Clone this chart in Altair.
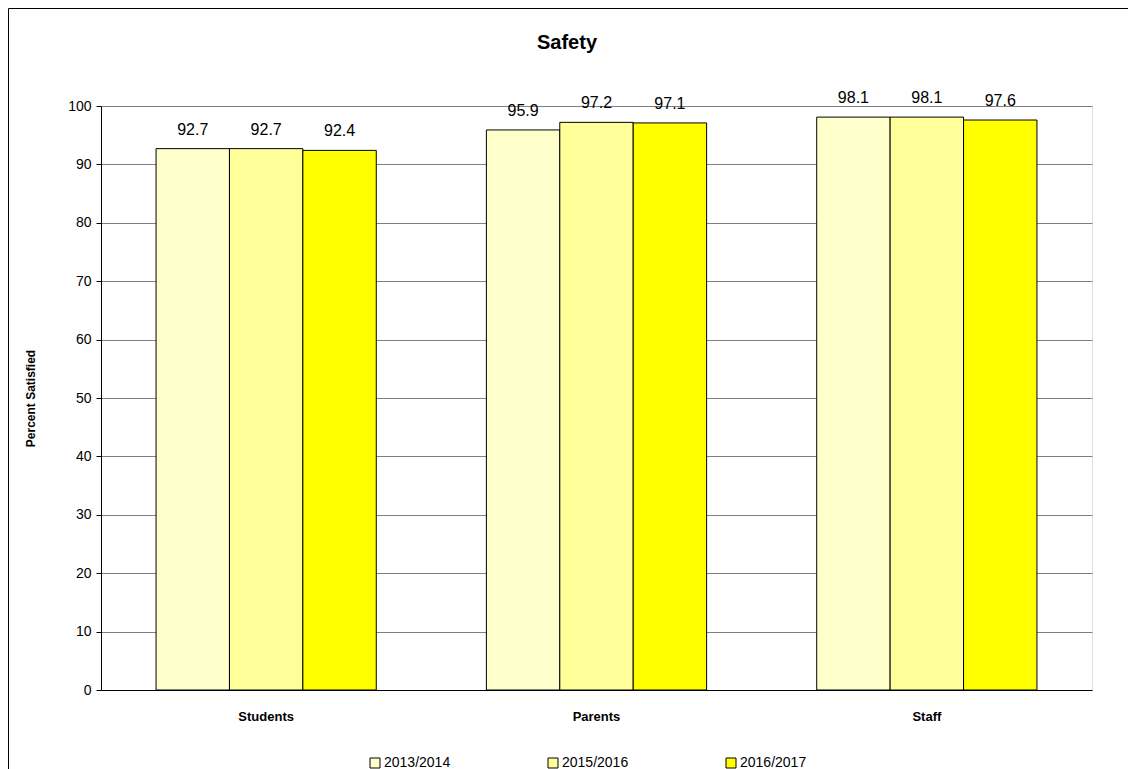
import altair as alt
import pandas as pd

groups = ["Students", "Parents", "Staff"]
years = ["2013/2014", "2015/2016", "2016/2017"]
v_2013 = [92.7, 95.9, 98.1]
v_2015 = [92.7, 97.2, 98.1]
v_2016 = [92.4, 97.1, 97.6]
colors = ["#FFFFCC", "#FFFF99", "#FFFF00"]
title_text = ["Safety"]

rows = []
for i, g in enumerate(groups):
    for y, vals in zip(years, [v_2013, v_2015, v_2016]):
        rows.append({"group": g, "year": y, "value": vals[i], "label": f"{vals[i]:.1f}"})
df = pd.DataFrame(rows)

FONT = "Arial, Liberation Sans, sans-serif"

x = alt.X("group:N", sort=groups, title=None,
          scale=alt.Scale(paddingInner=1/3, paddingOuter=1/6),
          axis=alt.Axis(labelAngle=0, labelFont=FONT, labelFontSize=13, labelFontWeight="bold",
                        labelColor="black", ticks=False, labelPadding=20, domainColor="black",
                        domainWidth=1, grid=False))
xo = alt.XOffset("year:N", sort=years, scale=alt.Scale(paddingInner=0, paddingOuter=0))
y = alt.Y("value:Q", title="Percent Satisfied",
          scale=alt.Scale(domain=[0, 100], nice=False),
          axis=alt.Axis(values=list(range(0, 101, 10)), labelFont=FONT, labelFontSize=14,
                        labelColor="black", tickColor="black", tickSize=5, labelPadding=5,
                        domainColor="black", gridColor="#808080", gridWidth=1,
                        titleFont=FONT, titleFontSize=12, titleFontWeight="bold", titleColor="black",
                        titleAngle=-90, titleX=-71, titleY=292, titleAlign="center",
                        titleBaseline="middle"))

bars = alt.Chart(df).mark_bar(stroke="black", strokeWidth=1, opacity=1).encode(
    x=x, xOffset=xo, y=y,
    color=alt.Color("year:N", sort=years, scale=alt.Scale(domain=years, range=colors),
                    legend=alt.Legend(title=None, orient="none", direction="horizontal",
                                      columns=3, legendX=267, legendY=650,
                                      symbolType="square", symbolSize=100,
                                      symbolStrokeColor="black", symbolStrokeWidth=1,
                                      symbolOpacity=1, labelFont=FONT, labelFontSize=14,
                                      labelColor="black", labelOffset=2, columnPadding=95)),
)

labels = alt.Chart(df).mark_text(baseline="bottom", dy=-11, font=FONT, fontSize=16,
                                 color="black").encode(
    x=alt.X("group:N", sort=groups), xOffset=xo, y="value:Q", text="label:N"
)

one = pd.DataFrame({"a": [0]})
border_top = alt.Chart(one).mark_rule(color="black", strokeWidth=1, clip=False).encode(
    x=alt.value(-92.5), x2=alt.value(1027), y=alt.value(-97.5))
border_left = alt.Chart(one).mark_rule(color="black", strokeWidth=1, clip=False).encode(
    x=alt.value(-92.5), y=alt.value(-97.5), y2=alt.value(670))

title = alt.Chart(pd.DataFrame({"t": title_text})).mark_text(
    font=FONT, fontSize=20, fontWeight="bold", color="black", baseline="middle", align="center"
).encode(x=alt.value(466), y=alt.value(-63), text="t:N")

chart = alt.layer(bars, labels, border_top, border_left, title).properties(
    width=991, height=584,
    autosize=alt.AutoSizeParams(type="none"),
    padding={"left": 93, "top": 98, "right": 37, "bottom": 90},
).configure_view(stroke="#808080", strokeWidth=1).configure(background="white")

chart.save("out.html", embed_options={"renderer": "svg", "actions": False})
